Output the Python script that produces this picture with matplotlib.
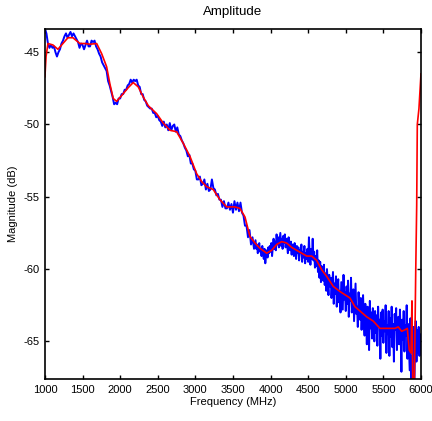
import numpy as np
import matplotlib
matplotlib.use("Agg")
from matplotlib import pyplot as plt

plt.rcParams['font.family'] = ['Liberation Sans', 'DejaVu Sans']
plt.rcParams['font.size'] = 8
plt.rcParams['axes.unicode_minus'] = False

# raw measurement: 20 MHz steps up to 3780, then 10 MHz steps to 6000
freq_raw = np.concatenate([np.arange(1000, 3800, 20), np.arange(3800, 6001, 10)])
mag_raw = [
    # 1000 - 3780 (20 MHz)
    -43.4, -43.7, -44.4, -44.7, -44.5, -44.7, -44.6, -45.0, -45.3, -45.0,
    -44.8, -44.4, -44.2, -43.9, -43.7, -44.0, -43.8, -43.6, -43.9, -43.7,
    -43.9, -44.1, -44.3, -44.7, -44.4, -44.5, -44.8, -44.5, -44.2, -44.6,
    -44.6, -44.2, -44.3, -44.2, -44.6, -44.8, -45.1, -45.3, -45.7, -45.9,
    -46.1, -46.3, -47.0, -47.3, -47.7, -48.1, -48.6, -48.5, -48.6, -48.2,
    -48.2, -47.9, -47.9, -47.6, -47.6, -47.3, -47.2, -46.9, -47.1, -46.9,
    -47.0, -46.9, -47.3, -47.4, -47.9, -47.9, -48.3, -48.4, -48.7, -48.8,
    -48.9, -48.9, -49.2, -49.2, -49.5, -49.4, -49.7, -49.8, -50.1, -49.8,
    -50.2, -50.0, -50.4, -49.9, -50.4, -50.1, -50.0, -50.5, -50.2, -50.7,
    -50.8, -51.1, -51.3, -51.6, -51.8, -52.2, -52.1, -52.7, -52.7, -53.1,
    -53.2, -53.8, -53.8, -53.6, -54.2, -54.1, -53.8, -54.5, -54.1, -54.6,
    -54.5, -53.8, -54.4, -54.5, -54.9, -54.8, -55.2, -55.2, -55.7, -55.3,
    -55.8, -55.8, -55.4, -55.9, -55.5, -56.1, -55.3, -55.9, -55.4, -56.0,
    -55.4, -56.1, -56.3, -57.0, -57.0, -57.8, -57.3, -58.3, -57.8, -58.6,
    # 3800 - 6000 (10 MHz)
    -58.0, -58.6, -58.3, -58.9, -58.5, -58.2, -58.8, -58.6, -59.1, -58.4,
    -58.9, -59.3, -58.6, -59.6, -59.0, -58.7, -59.2, -58.5, -58.9, -58.4,
    -58.8, -58.2, -59.1, -58.5, -57.9, -58.6, -58.1, -58.7, -57.6, -58.3,
    -57.8, -58.5, -58.0, -57.5, -58.4, -57.9, -58.6, -57.7, -58.2, -57.6,
    -58.5, -57.9, -58.3, -58.9, -57.8, -58.4, -58.7, -58.1, -59.0, -58.3,
    -58.6, -59.1, -58.2, -58.8, -59.3, -58.4, -58.9, -58.5, -59.4, -58.7,
    -58.9, -58.3, -59.5, -58.8, -59.2, -58.4, -59.6, -58.9, -59.3, -58.6,
    -59.5, -57.8, -59.0, -59.7, -58.6, -59.3, -57.9, -59.4, -58.8, -59.9,
    -59.1, -59.8, -58.7, -60.2, -59.4, -60.6, -59.5, -60.9, -59.8, -60.4,
    -60.8, -59.7, -61.1, -60.3, -61.5, -60.0, -60.9, -61.8, -60.4, -61.2,
    -60.6, -62.0, -61.1, -60.2, -62.4, -61.0, -61.7, -60.5, -62.6, -61.3,
    -60.7, -62.3, -61.5, -63.0, -60.9, -61.9, -62.8, -60.4, -62.1, -61.6,
    -62.9, -61.2, -62.4, -60.8, -63.3, -61.7, -62.2, -60.6, -63.0, -62.0,
    -61.4, -63.6, -62.3, -61.0, -63.1, -62.6, -64.0, -61.6, -62.9, -63.5,
    -62.0, -64.2, -62.8, -61.8, -63.6, -64.6, -62.4, -63.3, -65.2, -62.6,
    -63.9, -65.6, -62.2, -64.1, -63.0, -64.8, -62.7, -63.7, -65.0, -62.9,
    -64.4, -63.2, -65.3, -62.6, -64.0, -63.5, -66.2, -63.0, -64.6, -62.8,
    -65.1, -63.6, -64.3, -62.5, -65.8, -63.9, -64.5, -62.9, -66.0, -63.4,
    -64.7, -62.6, -65.4, -63.8, -66.4, -63.1, -64.2, -62.7, -65.6, -64.0,
    -63.3, -65.2, -62.8, -64.6, -67.1, -63.5, -64.9, -62.9, -65.7, -63.9,
    -64.6, -62.5, -66.2, -63.8, -65.5, -67.0, -63.4, -68.5, -66.0, -69.5,
    -64.0, -69.0, -65.5, -63.6, -66.4, -64.2, -65.8, -64.0, -66.0, -64.5,
    -65.0,
]

# smoothed curve
freq_fit = [1000, 1015, 1040, 1106, 1173, 1239, 1306, 1372, 1465, 1532,
            1598, 1688, 1754, 1820, 1864, 1908, 1953, 2020, 2108, 2174,
            2241, 2307, 2374, 2485, 2573, 2662, 2751, 2839, 2928, 3017,
            3084, 3150, 3238, 3327, 3416, 3527, 3593, 3660, 3726, 3793,
            3859, 3948, 4015, 4081, 4148, 4214, 4281, 4347, 4414, 4480,
            4547, 4613, 4680, 4746, 4834, 4923, 4967, 5056, 5122, 5189,
            5278, 5366, 5455, 5565, 5654, 5698, 5743, 5787, 5818, 5844,
            5867, 5880, 5894, 5907, 5930, 5943, 5951, 5973, 6000]
mag_fit = [-46.7, -45.3, -44.4, -44.5, -44.8, -44.4, -44.0, -44.0, -44.4, -44.4,
           -44.45, -44.4, -45.1, -46.0, -47.2, -48.2, -48.4, -48.0, -47.45, -47.1,
           -47.4, -48.1, -48.7, -49.25, -49.9, -50.4, -50.5, -51.3, -52.2, -53.4,
           -53.95, -54.3, -54.5, -55.2, -55.7, -55.7, -55.8, -56.4, -57.75, -58.2,
           -58.56, -58.9, -58.7, -58.3, -58.1, -58.2, -58.5, -58.7, -58.9, -59.1,
           -59.1, -59.4, -60.05, -60.5, -61.2, -61.55, -61.7, -62.0, -62.6, -62.9,
           -63.3, -63.6, -64.1, -64.1, -64.1, -64.0, -64.3, -64.2, -64.1, -65.6,
           -65.8, -62.2, -70.0, -70.0, -60.2, -55.6, -50.0, -48.9, -46.5]

fig = plt.figure(figsize=(4.32, 4.21), dpi=100)
ax = fig.add_axes([0.104, 0.0998, 0.8705, 0.8312])
ax.plot(freq_raw, mag_raw, color='#0000ff', lw=1.4)
ax.plot(freq_fit, mag_fit, color='#ff0000', lw=1.2)

ax.set_xlim(1000, 6000)
ax.set_ylim(-67.6, -43.4)
ax.set_xticks(np.arange(1000, 6001, 500))
ax.set_yticks([-65, -60, -55, -50, -45])
ax.tick_params(direction='in', top=True, right=True, length=3, width=1, pad=4)
for s in ax.spines.values():
    s.set_linewidth(1.2)

ax.set_title('Amplitude', pad=10)
ax.set_xlabel('Frequency (MHz)', labelpad=2)
ax.set_ylabel('Magnitude (dB)', labelpad=4)

plt.savefig('out.png', dpi=100)
